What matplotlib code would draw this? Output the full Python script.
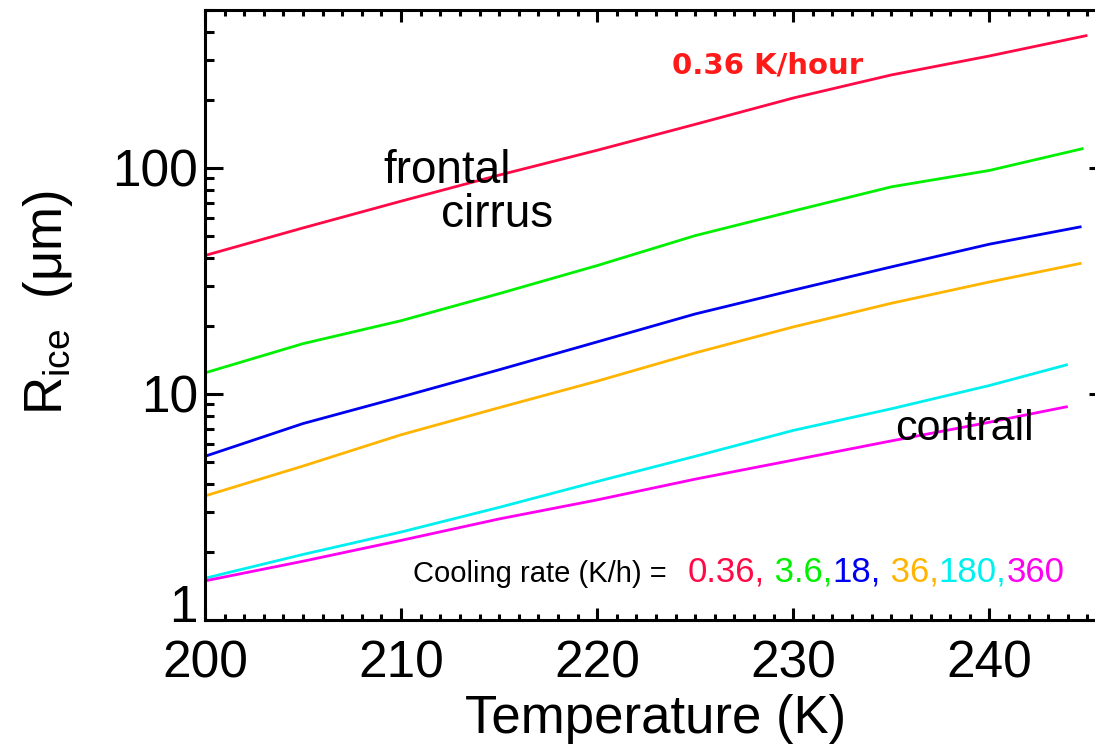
import matplotlib
matplotlib.use("Agg")
import matplotlib.pyplot as plt
from matplotlib.ticker import FixedLocator, MultipleLocator, NullFormatter, LogLocator
from matplotlib.transforms import ScaledTranslation

# Ice crystal radius (um) vs temperature (K) for several cooling rates
temp = [200, 205, 210, 215, 220, 225, 230, 235, 240]

rate_0p36 = [41.0, 54.3, 71.3, 93.0, 119.8, 156.0, 204.0, 258.0, 313.0]
rate_0p36_end = (245.0, 386.0)
rate_3p6 = [12.4, 16.7, 21.1, 27.8, 37.0, 50.2, 64.5, 82.5, 97.5]
rate_3p6_end = (244.8, 122.0)
rate_18 = [5.3, 7.4, 9.7, 12.8, 17.0, 22.6, 28.8, 36.5, 46.0]
rate_18_end = (244.7, 55.0)
rate_36 = [3.54, 4.8, 6.6, 8.7, 11.4, 15.2, 19.8, 25.2, 31.3]
rate_36_end = (244.7, 37.9)
rate_180 = [1.53, 1.95, 2.45, 3.15, 4.1, 5.3, 6.9, 8.6, 10.9]
rate_180_end = (244.0, 13.5)
rate_360 = [1.49, 1.82, 2.25, 2.8, 3.4, 4.2, 5.1, 6.2, 7.5]
rate_360_end = (244.0, 8.8)

series = [
    (rate_0p36, rate_0p36_end, "#ff0a46"),
    (rate_3p6, rate_3p6_end, "#00f000"),
    (rate_18, rate_18_end, "#0000f0"),
    (rate_36, rate_36_end, "#ffb400"),
    (rate_180, rate_180_end, "#00f0f0"),
    (rate_360, rate_360_end, "#ff00f0"),
]

rate_labels = ["0.36,", " 3.6,", "18,", " 36,", "180,", "360"]
rate_colors = ["#ff0a46", "#00f000", "#0000f0", "#ffb400", "#00f0f0", "#ff00f0"]

plt.rcParams["font.family"] = ["Liberation Sans", "DejaVu Sans"]

fig = plt.figure(figsize=(10.95, 7.5), dpi=100)
W, H = 1095, 750
ax = fig.add_axes([205 / W, 1 - 620 / H, (1107 - 205) / W, (620 - 10) / H])

for vals, end, col in series:
    xs = temp + [end[0]]
    ys = vals + [end[1]]
    ax.plot(xs, ys, color=col, lw=2.0, solid_capstyle="butt")

ax.set_yscale("log")
ax.set_xlim(200, 246)
ax.set_ylim(1, 500)

ax.xaxis.set_major_locator(MultipleLocator(10))
ax.xaxis.set_minor_locator(MultipleLocator(1))
ax.yaxis.set_major_locator(FixedLocator([1, 10, 100]))
ax.yaxis.set_minor_locator(LogLocator(base=10, subs=range(2, 10)))
ax.yaxis.set_minor_formatter(NullFormatter())
ax.set_yticklabels(["1", "10", "100"])

for s in ax.spines.values():
    s.set_linewidth(2.2)

ax.tick_params(axis="x", which="major", direction="in", length=8.6, width=2.2,
               top=True, bottom=True, labelsize=37, pad=14)
ax.tick_params(axis="x", which="minor", direction="in", length=4.3, width=2.2,
               top=True, bottom=True)
ax.tick_params(axis="y", which="major", direction="in", length=13, width=2.2,
               left=True, right=True, labelsize=37, pad=5)
ax.tick_params(axis="y", which="minor", direction="in", length=6.5, width=2.2,
               left=True, right=True)

# lift the lowest y label clear of the x labels
lowest = ax.get_yticklabels()[0]
lowest.set_transform(lowest.get_transform() + ScaledTranslation(0, 17 / 100, fig.dpi_scale_trans))

ax.set_xlabel("Temperature (K)", fontsize=38, labelpad=4)
ax.set_ylabel(r"R$_{\mathregular{ice}}$  ($\mathregular{\mu}$m)", fontsize=38, labelpad=27)
ax.yaxis.label.set_y(0.521)

def ftext(x, y, s, **kw):
    fig.text(x / W, 1 - y / H, s, **kw)

ftext(383, 183, "frontal", fontsize=33, va="baseline", ha="left")
ftext(441, 227, "cirrus", fontsize=33, va="baseline", ha="left")
ftext(895, 440, "contrail", fontsize=31, va="baseline", ha="left")
ftext(672, 73, "0.36 K/hour", fontsize=21, fontweight="bold", color="#ff1a1a",
      family="DejaVu Sans", va="baseline", ha="left")
ftext(413, 582, "Cooling rate (K/h) =", fontsize=21, va="baseline", ha="left")

# coloured list of cooling rates, each piece placed after the previous one
fig.canvas.draw()
renderer = fig.canvas.get_renderer()
xpos = 688
for lab, col in zip(rate_labels, rate_colors):
    t = fig.text(xpos / W, 1 - 582 / H, lab, fontsize=25, color=col,
                 va="baseline", ha="left")
    bb = t.get_window_extent(renderer=renderer)
    xpos += bb.width

fig.savefig("out.png", dpi=100)
